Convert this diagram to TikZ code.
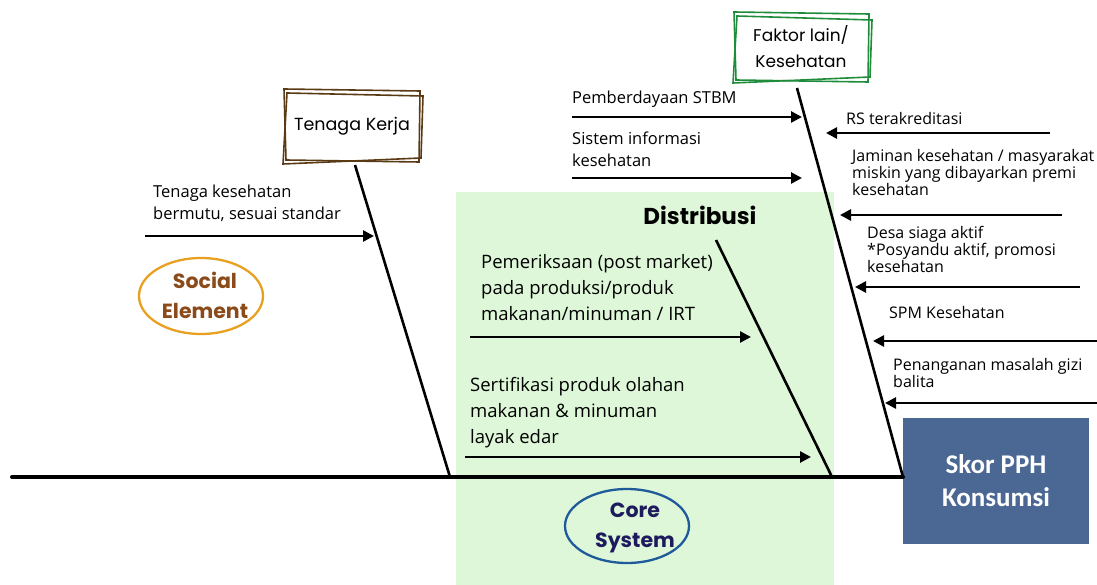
\documentclass[tikz,border=0pt]{standalone}
\usepackage{fontspec}
\setmainfont{Open Sans}
\newfontfamily\headfont{Poppins}
\newfontfamily\boxfont{Carlito}
\usetikzlibrary{arrows.meta}
\definecolor{zonegreen}{HTML}{DDF7D8}
\definecolor{kerjabrown}{HTML}{5A3A14}
\definecolor{faktorgreen}{HTML}{1E8C3A}
\definecolor{skorblue}{HTML}{4A6893}
\definecolor{socialring}{HTML}{E8A020}
\definecolor{socialtext}{HTML}{8B4A1A}
\definecolor{corering}{HTML}{1F5A9A}
\definecolor{coretext}{HTML}{1E1A5E}
\tikzset{
  bone/.style={line width=2.6pt},
  spine/.style={line width=4pt, line cap=round},
  causearrow/.style={line width=2.6pt, -{Triangle[length=11pt,width=11pt]}},
  label/.style={anchor=north west, align=left, inner sep=0pt, font=\fontsize{16.5}{22}\selectfont},
  smalllabel/.style={anchor=north west, align=left, inner sep=0pt, font=\fontsize{16}{17}\selectfont},
  biglabel/.style={anchor=north west, align=left, inner sep=0pt, font=\fontsize{18.5}{26.3}\selectfont},
}
\begin{document}
\begin{tikzpicture}[x=1pt,y=-1pt]
\useasboundingbox (0,0) rectangle (1097,585);

% shaded core-system zone
\fill[zonegreen] (456,192) rectangle (834,585);

% category boxes with sketched double outlines
\node[font=\headfont\fontsize{17.5}{20}\selectfont, minimum width=132pt, minimum height=68pt] (kerja) at (352,126) {Tenaga Kerja};
\draw[kerjabrown, line width=1.6pt] (284,89) -- (420,91) -- (419,162) -- (286,160) -- cycle;
\draw[kerjabrown, line width=1.6pt] (287,93) -- (423,96) -- (421,158) -- (283,164) -- cycle;

\node[font=\headfont\fontsize{17}{26}\selectfont, align=center, minimum width=132pt, minimum height=66pt] (faktor) at (801,47) {Faktor lain/\\Kesehatan};
\draw[faktorgreen, line width=1.6pt] (734,12) -- (869,14) -- (868,82) -- (736,80) -- cycle;
\draw[faktorgreen, line width=1.6pt] (737,16) -- (872,20) -- (870,77) -- (733,83) -- cycle;

% effect box
\node[fill=skorblue, text=white, font=\boxfont\bfseries\fontsize{27}{33}\selectfont, align=center, minimum width=186pt, minimum height=126pt, inner sep=0pt] (skor) at (996,481) {Skor PPH\\Konsumsi};

% bone end points on the spine
\coordinate (headL) at (12,477);
\coordinate (j1) at (450,477);
\coordinate (j2) at (832,477);
\coordinate (j3) at (903,477);
\coordinate (b1top) at (355,165);
\coordinate (b2top) at (716,240);
\coordinate (b3top) at (797,88);

% spine and bones
\draw[spine] (headL) -- (j3);
\draw[bone] (b1top) -- (j1);
\draw[bone] (b2top) -- (j2);
\draw[bone] (b3top) -- (j3);

% category title inside the zone
\node[font=\headfont\bfseries\fontsize{23}{26}\selectfont] (distribusi) at (700,215) {Distribusi};

% ellipse tags
\draw[socialring, line width=2.3pt] (201,296) ellipse [x radius=62, y radius=38];
\node[font=\headfont\bfseries\fontsize{20.5}{30}\selectfont, text=socialtext, align=center] (social) at (205,295) {Social\\Element};
\draw[corering, line width=2.3pt] (627,526) ellipse [x radius=62, y radius=37];
\node[font=\headfont\bfseries\fontsize{20.5}{30}\selectfont, text=coretext, align=center] (core) at (635,528) {Core\\System};

% Tenaga kerja cause
\node[label] (tk1) at (153,185) {Tenaga kesehatan\\bermutu, sesuai standar};
\coordinate (a1s) at (145,236); \coordinate (a1e) at (374,236);
\draw[causearrow] (a1s) -- (a1e);

% Distribusi causes
\node[biglabel] (ds1) at (481,254) {Pemeriksaan (post market)\\pada produksi/produk\\makanan/minuman / IRT};
\coordinate (a2s) at (470,337); \coordinate (a2e) at (751,337);
\draw[causearrow] (a2s) -- (a2e);
\node[biglabel] (ds2) at (470,377) {Sertifikasi produk olahan\\makanan \& minuman\\layak edar};
\coordinate (a3s) at (465,457); \coordinate (a3e) at (811,457);
\draw[causearrow] (a3s) -- (a3e);

% Kesehatan causes, left side
\node[label] (ks1) at (572,91) {Pemberdayaan STBM};
\coordinate (a4s) at (572,117); \coordinate (a4e) at (802,117);
\draw[causearrow] (a4s) -- (a4e);
\node[label] (ks2) at (572,132) {Sistem informasi\\kesehatan};
\coordinate (a5s) at (572,178); \coordinate (a5e) at (802,178);
\draw[causearrow] (a5s) -- (a5e);

% Kesehatan causes, right side
\node[smalllabel] (kr1) at (846,112) {RS terakreditasi};
\coordinate (a6s) at (1050,133); \coordinate (a6e) at (826,133);
\draw[causearrow] (a6s) -- (a6e);
\node[smalllabel] (kr2) at (852,149) {Jaminan kesehatan / masyarakat\\miskin yang dibayarkan premi\\kesehatan};
\coordinate (a7s) at (1062,215); \coordinate (a7e) at (840,215);
\draw[causearrow] (a7s) -- (a7e);
\node[smalllabel] (kr3) at (867,226) {Desa siaga aktif\\*Posyandu aktif, promosi\\kesehatan};
\coordinate (a8s) at (1080,287); \coordinate (a8e) at (855,287);
\draw[causearrow] (a8s) -- (a8e);
\node[smalllabel] (kr4) at (889,306) {SPM Kesehatan};
\coordinate (a9s) at (1097,341); \coordinate (a9e) at (873,341);
\draw[causearrow] (a9s) -- (a9e);
\node[smalllabel] (kr5) at (893,358) {Penanganan masalah gizi\\balita};
\coordinate (a10s) at (1097,403); \coordinate (a10e) at (885,403);
\draw[causearrow] (a10s) -- (a10e);
\end{tikzpicture}
\end{document}
